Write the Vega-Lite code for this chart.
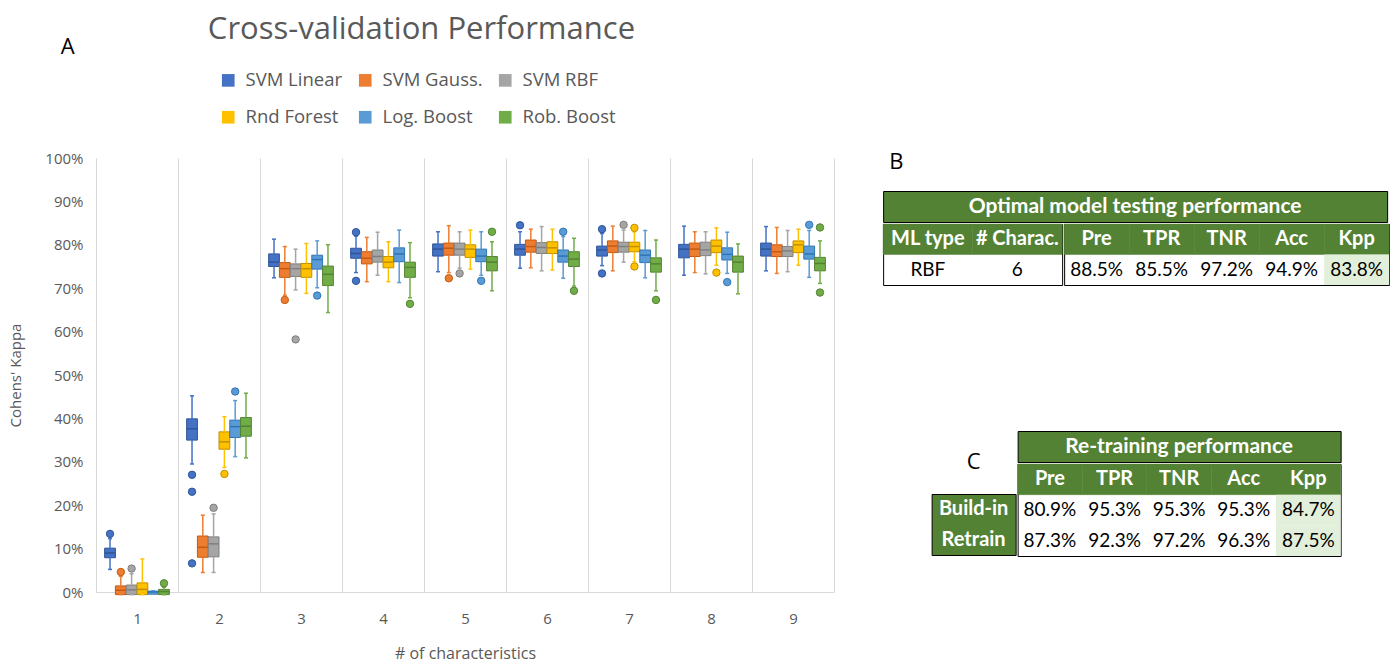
{
  "$schema": "https://vega.github.io/schema/vega-lite/v6.json",
  "background": "white",
  "padding": {"left": 8, "top": 14, "right": 0, "bottom": 0},
  "config": {"font": "Open Sans", "view": {"stroke": null}},
  "title": {"text": "Cross-validation Performance", "anchor": "start", "frame": "bounds", "dx": 199, "fontSize": 31, "font": "Open Sans", "fontWeight": "normal", "color": "#595959", "offset": -10},
  "datasets": {
    "box": [
      {"k": 1, "m": "SVM Linear", "lo": 5.2, "q1": 7.9, "md": 9.0, "q3": 10.1, "hi": 12.3},
      {"k": 1, "m": "SVM Gauss.", "lo": -0.6, "q1": -0.6, "md": 0.4, "q3": 1.4, "hi": 3.6},
      {"k": 1, "m": "SVM RBF", "lo": -0.6, "q1": -0.6, "md": 0.5, "q3": 1.6, "hi": 4.2},
      {"k": 1, "m": "Rnd Forest", "lo": -0.6, "q1": -0.6, "md": 0.6, "q3": 2.1, "hi": 7.6},
      {"k": 1, "m": "Log. Boost", "lo": -0.5, "q1": -0.5, "md": 0.0, "q3": 0.2, "hi": 0.3},
      {"k": 1, "m": "Rob. Boost", "lo": -0.6, "q1": -0.6, "md": 0.1, "q3": 0.6, "hi": 1.1},
      {"k": 2, "m": "SVM Linear", "lo": 29.5, "q1": 35.0, "md": 37.6, "q3": 39.9, "hi": 45.2},
      {"k": 2, "m": "SVM Gauss.", "lo": 4.5, "q1": 8.0, "md": 10.3, "q3": 12.9, "hi": 17.7},
      {"k": 2, "m": "SVM RBF", "lo": 4.5, "q1": 8.1, "md": 11.1, "q3": 12.7, "hi": 18.0},
      {"k": 2, "m": "Rnd Forest", "lo": 28.7, "q1": 32.9, "md": 34.6, "q3": 36.9, "hi": 40.4},
      {"k": 2, "m": "Log. Boost", "lo": 31.2, "q1": 35.6, "md": 38.1, "q3": 39.6, "hi": 44.1},
      {"k": 2, "m": "Rob. Boost", "lo": 30.9, "q1": 35.9, "md": 38.2, "q3": 40.2, "hi": 45.8},
      {"k": 3, "m": "SVM Linear", "lo": 72.4, "q1": 75.0, "md": 76.0, "q3": 77.9, "hi": 81.3},
      {"k": 3, "m": "SVM Gauss.", "lo": 68.4, "q1": 72.5, "md": 74.5, "q3": 75.9, "hi": 79.6},
      {"k": 3, "m": "SVM RBF", "lo": 69.6, "q1": 72.7, "md": 74.5, "q3": 75.6, "hi": 79.0},
      {"k": 3, "m": "Rnd Forest", "lo": 68.8, "q1": 72.5, "md": 74.5, "q3": 75.7, "hi": 80.3},
      {"k": 3, "m": "Log. Boost", "lo": 70.1, "q1": 74.4, "md": 76.6, "q3": 77.6, "hi": 80.9},
      {"k": 3, "m": "Rob. Boost", "lo": 64.4, "q1": 70.6, "md": 73.2, "q3": 75.1, "hi": 80.0},
      {"k": 4, "m": "SVM Linear", "lo": 73.6, "q1": 76.9, "md": 78.0, "q3": 79.2, "hi": 82.0},
      {"k": 4, "m": "SVM Gauss.", "lo": 71.5, "q1": 75.6, "md": 76.9, "q3": 78.4, "hi": 81.7},
      {"k": 4, "m": "SVM RBF", "lo": 73.0, "q1": 76.0, "md": 77.3, "q3": 78.8, "hi": 82.9},
      {"k": 4, "m": "Rnd Forest", "lo": 71.5, "q1": 74.7, "md": 76.0, "q3": 77.3, "hi": 80.7},
      {"k": 4, "m": "Log. Boost", "lo": 71.3, "q1": 76.1, "md": 77.9, "q3": 79.3, "hi": 83.4},
      {"k": 4, "m": "Rob. Boost", "lo": 67.8, "q1": 72.5, "md": 74.8, "q3": 76.0, "hi": 80.5},
      {"k": 5, "m": "SVM Linear", "lo": 73.8, "q1": 77.4, "md": 79.0, "q3": 80.2, "hi": 83.0},
      {"k": 5, "m": "SVM Gauss.", "lo": 73.6, "q1": 77.6, "md": 79.2, "q3": 80.4, "hi": 84.4},
      {"k": 5, "m": "SVM RBF", "lo": 74.6, "q1": 77.6, "md": 79.0, "q3": 80.4, "hi": 83.0},
      {"k": 5, "m": "Rnd Forest", "lo": 74.4, "q1": 77.1, "md": 79.0, "q3": 80.0, "hi": 83.4},
      {"k": 5, "m": "Log. Boost", "lo": 73.0, "q1": 76.1, "md": 77.4, "q3": 79.0, "hi": 83.0},
      {"k": 5, "m": "Rob. Boost", "lo": 69.4, "q1": 74.0, "md": 76.0, "q3": 77.3, "hi": 80.7},
      {"k": 6, "m": "SVM Linear", "lo": 74.6, "q1": 77.6, "md": 79.0, "q3": 80.1, "hi": 83.0},
      {"k": 6, "m": "SVM Gauss.", "lo": 74.7, "q1": 78.3, "md": 79.6, "q3": 81.1, "hi": 83.6},
      {"k": 6, "m": "SVM RBF", "lo": 74.0, "q1": 78.0, "md": 79.4, "q3": 80.5, "hi": 84.2},
      {"k": 6, "m": "Rnd Forest", "lo": 74.2, "q1": 78.0, "md": 79.3, "q3": 80.7, "hi": 83.6},
      {"k": 6, "m": "Log. Boost", "lo": 72.3, "q1": 76.0, "md": 77.4, "q3": 78.8, "hi": 81.9},
      {"k": 6, "m": "Rob. Boost", "lo": 70.5, "q1": 75.0, "md": 76.7, "q3": 78.4, "hi": 81.5},
      {"k": 7, "m": "SVM Linear", "lo": 75.2, "q1": 77.4, "md": 78.8, "q3": 79.7, "hi": 82.6},
      {"k": 7, "m": "SVM Gauss.", "lo": 74.0, "q1": 78.2, "md": 79.7, "q3": 80.9, "hi": 84.3},
      {"k": 7, "m": "SVM RBF", "lo": 76.0, "q1": 78.3, "md": 79.6, "q3": 80.6, "hi": 83.4},
      {"k": 7, "m": "Rnd Forest", "lo": 76.1, "q1": 78.4, "md": 79.6, "q3": 80.6, "hi": 83.0},
      {"k": 7, "m": "Log. Boost", "lo": 72.4, "q1": 75.9, "md": 77.6, "q3": 78.8, "hi": 83.3},
      {"k": 7, "m": "Rob. Boost", "lo": 69.4, "q1": 73.7, "md": 75.6, "q3": 77.0, "hi": 81.1},
      {"k": 8, "m": "SVM Linear", "lo": 73.0, "q1": 77.0, "md": 79.0, "q3": 80.1, "hi": 84.3},
      {"k": 8, "m": "SVM Gauss.", "lo": 73.6, "q1": 77.3, "md": 79.0, "q3": 80.4, "hi": 83.0},
      {"k": 8, "m": "SVM RBF", "lo": 73.3, "q1": 77.5, "md": 78.8, "q3": 80.6, "hi": 83.0},
      {"k": 8, "m": "Rnd Forest", "lo": 75.3, "q1": 78.2, "md": 79.7, "q3": 81.1, "hi": 83.9},
      {"k": 8, "m": "Log. Boost", "lo": 73.4, "q1": 76.5, "md": 77.8, "q3": 79.3, "hi": 82.9},
      {"k": 8, "m": "Rob. Boost", "lo": 68.7, "q1": 73.7, "md": 76.0, "q3": 77.4, "hi": 80.2},
      {"k": 9, "m": "SVM Linear", "lo": 74.0, "q1": 77.4, "md": 79.0, "q3": 80.4, "hi": 84.2},
      {"k": 9, "m": "SVM Gauss.", "lo": 73.4, "q1": 77.3, "md": 78.4, "q3": 80.0, "hi": 84.0},
      {"k": 9, "m": "SVM RBF", "lo": 73.8, "q1": 77.3, "md": 78.6, "q3": 79.6, "hi": 83.3},
      {"k": 9, "m": "Rnd Forest", "lo": 75.3, "q1": 78.2, "md": 80.0, "q3": 80.9, "hi": 83.6},
      {"k": 9, "m": "Log. Boost", "lo": 72.5, "q1": 76.7, "md": 77.9, "q3": 79.7, "hi": 83.3},
      {"k": 9, "m": "Rob. Boost", "lo": 71.1, "q1": 74.0, "md": 75.7, "q3": 77.1, "hi": 80.9}
    ],
    "out": [
      {"k": 1, "m": "SVM Linear", "v": 13.4},
      {"k": 1, "m": "SVM Gauss.", "v": 4.6},
      {"k": 1, "m": "SVM RBF", "v": 5.4},
      {"k": 1, "m": "Rob. Boost", "v": 2.0},
      {"k": 2, "m": "SVM Linear", "v": 27.0},
      {"k": 2, "m": "SVM Linear", "v": 23.1},
      {"k": 2, "m": "SVM Linear", "v": 6.6},
      {"k": 2, "m": "SVM RBF", "v": 19.4},
      {"k": 2, "m": "Rnd Forest", "v": 27.2},
      {"k": 2, "m": "Log. Boost", "v": 46.2},
      {"k": 3, "m": "SVM Gauss.", "v": 67.3},
      {"k": 3, "m": "SVM RBF", "v": 58.2},
      {"k": 3, "m": "Log. Boost", "v": 68.3},
      {"k": 4, "m": "SVM Linear", "v": 82.9},
      {"k": 4, "m": "SVM Linear", "v": 71.7},
      {"k": 4, "m": "Rob. Boost", "v": 66.4},
      {"k": 5, "m": "SVM Gauss.", "v": 72.3},
      {"k": 5, "m": "SVM RBF", "v": 73.4},
      {"k": 5, "m": "Log. Boost", "v": 71.7},
      {"k": 5, "m": "Rob. Boost", "v": 83.0},
      {"k": 6, "m": "SVM Linear", "v": 84.5},
      {"k": 6, "m": "Log. Boost", "v": 83.0},
      {"k": 6, "m": "Rob. Boost", "v": 69.4},
      {"k": 7, "m": "SVM Linear", "v": 83.6},
      {"k": 7, "m": "SVM Linear", "v": 73.4},
      {"k": 7, "m": "SVM RBF", "v": 84.6},
      {"k": 7, "m": "Rnd Forest", "v": 83.9},
      {"k": 7, "m": "Rnd Forest", "v": 75.0},
      {"k": 7, "m": "Rob. Boost", "v": 67.3},
      {"k": 8, "m": "Rnd Forest", "v": 73.6},
      {"k": 8, "m": "Log. Boost", "v": 71.4},
      {"k": 9, "m": "Log. Boost", "v": 84.6},
      {"k": 9, "m": "Rob. Boost", "v": 84.0},
      {"k": 9, "m": "Rob. Boost", "v": 69.0}
    ],
    "tb": [
      {"col": "ML type", "row": "head", "txt": "ML type"},
      {"col": "# Charac.", "row": "head", "txt": "# Charac."},
      {"col": "ML type", "row": "RBF", "txt": "RBF"},
      {"col": "# Charac.", "row": "RBF", "txt": "6"},
      {"col": "Pre", "row": "head", "txt": "Pre"},
      {"col": "TPR", "row": "head", "txt": "TPR"},
      {"col": "TNR", "row": "head", "txt": "TNR"},
      {"col": "Acc", "row": "head", "txt": "Acc"},
      {"col": "Kpp", "row": "head", "txt": "Kpp"},
      {"col": "Pre", "row": "RBF", "txt": "88.5%"},
      {"col": "TPR", "row": "RBF", "txt": "85.5%"},
      {"col": "TNR", "row": "RBF", "txt": "97.2%"},
      {"col": "Acc", "row": "RBF", "txt": "94.9%"},
      {"col": "Kpp", "row": "RBF", "txt": "83.8%"}
    ],
    "tc": [
      {"col": "Pre", "row": "head", "txt": "Pre"},
      {"col": "TPR", "row": "head", "txt": "TPR"},
      {"col": "TNR", "row": "head", "txt": "TNR"},
      {"col": "Acc", "row": "head", "txt": "Acc"},
      {"col": "Kpp", "row": "head", "txt": "Kpp"},
      {"col": "Pre", "row": "Build-in", "txt": "80.9%"},
      {"col": "TPR", "row": "Build-in", "txt": "95.3%"},
      {"col": "TNR", "row": "Build-in", "txt": "95.3%"},
      {"col": "Acc", "row": "Build-in", "txt": "95.3%"},
      {"col": "Kpp", "row": "Build-in", "txt": "84.7%"},
      {"col": "Pre", "row": "Retrain", "txt": "87.3%"},
      {"col": "TPR", "row": "Retrain", "txt": "92.3%"},
      {"col": "TNR", "row": "Retrain", "txt": "97.2%"},
      {"col": "Acc", "row": "Retrain", "txt": "96.3%"},
      {"col": "Kpp", "row": "Retrain", "txt": "87.5%"}
    ]
  },
  "hconcat": [
    {
      "width": 738,
      "height": 434,
      "title": {"text": "A", "anchor": "start", "frame": "bounds", "dx": 52, "fontSize": 22, "font": "Open Sans", "fontWeight": "normal", "color": "black", "offset": 92},
      "data": {"name": "box"},
      "encoding": {
        "x": {
          "field": "k", "type": "ordinal",
          "scale": {"paddingInner": 0, "paddingOuter": 0},
          "axis": {
            "title": "# of characteristics", "titleFont": "Open Sans", "titleFontSize": 16, "titleFontWeight": "normal", "titleColor": "#595959", "titlePadding": 19,
            "labelFont": "Open Sans", "labelFontSize": 15, "labelColor": "#595959", "labelAngle": 0, "labelPadding": 19,
            "ticks": false, "tickSize": 0, "grid": true, "tickBand": "extent", "gridColor": "#d9d9d9", "domainColor": "#d9d9d9"
          }
        },
        "xOffset": {
          "field": "m", "type": "nominal",
          "sort": ["SVM Linear", "SVM Gauss.", "SVM RBF", "Rnd Forest", "Log. Boost", "Rob. Boost"],
          "scale": {"paddingInner": 0, "paddingOuter": 0.8}
        }
      },
      "layer": [
        {
          "mark": {"type": "bar", "strokeWidth": 1, "opacity": 1},
          "encoding": {
            "y": {
              "field": "q1", "type": "quantitative", "scale": {"domain": [0, 100], "nice": false},
              "axis": {
                "title": "Cohens' Kappa", "titleFont": "Open Sans", "titleFontSize": 15, "titleFontWeight": "normal", "titleColor": "#595959", "titlePadding": 21,
                "labelFont": "Open Sans", "labelFontSize": 15, "labelColor": "#595959", "labelPadding": 13,
                "ticks": false, "tickSize": 0, "grid": false, "domainColor": "#d9d9d9", "tickCount": 10,
                "labelExpr": "datum.value + '%'"
              }
            },
            "y2": {"field": "q3"},
            "color": {
              "field": "m", "type": "nominal",
              "sort": ["SVM Linear", "SVM Gauss.", "SVM RBF", "Rnd Forest", "Log. Boost", "Rob. Boost"],
              "scale": {"domain": ["SVM Linear", "SVM Gauss.", "SVM RBF", "Rnd Forest", "Log. Boost", "Rob. Boost"], "range": ["#4472C4", "#ED7D31", "#A5A5A5", "#FFC000", "#5B9BD5", "#70AD47"]},
              "legend": {
                "title": null, "orient": "none", "legendX": 123, "legendY": -87, "direction": "horizontal", "columns": 3,
                "symbolType": "square", "symbolSize": 160, "symbolStrokeWidth": 0, "symbolOpacity": 1,
                "labelFont": "Open Sans", "labelFontSize": 18.5, "labelColor": "#595959", "labelOffset": 8,
                "columnPadding": 13, "rowPadding": 18, "padding": 0
              }
            },
            "stroke": {
              "field": "m", "type": "nominal",
              "scale": {"domain": ["SVM Linear", "SVM Gauss.", "SVM RBF", "Rnd Forest", "Log. Boost", "Rob. Boost"], "range": ["#2F5597", "#C55A11", "#7F7F7F", "#BF9000", "#2E75B6", "#548235"]},
              "legend": null
            }
          }
        },
        {
          "mark": {"type": "rule", "strokeWidth": 1.5, "opacity": 1},
          "encoding": {
            "y": {"field": "lo", "type": "quantitative", "scale": {"domain": [0, 100], "nice": false}},
            "y2": {"field": "q1"},
            "color": {"field": "m", "type": "nominal"}
          }
        },
        {
          "mark": {"type": "rule", "strokeWidth": 1.5, "opacity": 1},
          "encoding": {
            "y": {"field": "q3", "type": "quantitative", "scale": {"domain": [0, 100], "nice": false}},
            "y2": {"field": "hi"},
            "color": {"field": "m", "type": "nominal"}
          }
        },
        {
          "transform": [{"fold": ["lo", "hi"], "as": ["end", "val"]}],
          "mark": {"type": "tick", "size": 4, "thickness": 1.5, "opacity": 1},
          "encoding": {
            "y": {"field": "val", "type": "quantitative", "scale": {"domain": [0, 100], "nice": false}},
            "color": {"field": "m", "type": "nominal"}
          }
        },
        {
          "mark": {"type": "tick", "size": 10, "thickness": 1.5, "opacity": 1},
          "encoding": {
            "y": {"field": "md", "type": "quantitative", "scale": {"domain": [0, 100], "nice": false}},
            "fill": {
              "field": "m", "type": "nominal",
              "scale": {"domain": ["SVM Linear", "SVM Gauss.", "SVM RBF", "Rnd Forest", "Log. Boost", "Rob. Boost"], "range": ["#2F5597", "#C55A11", "#7F7F7F", "#BF9000", "#2E75B6", "#548235"]},
              "legend": null
            }
          }
        },
        {
          "data": {"name": "out"},
          "mark": {"type": "circle", "size": 55, "opacity": 1, "strokeWidth": 1},
          "encoding": {
            "y": {"field": "v", "type": "quantitative", "scale": {"domain": [0, 100], "nice": false}},
            "color": {"field": "m", "type": "nominal"},
            "stroke": {"field": "m", "type": "nominal", "legend": null}
          }
        }
      ]
    },
    {
      "vconcat": [
        {
          "spacing": 0,
          "vconcat": [
            {
              "width": 504, "height": 32,
              "data": {"values": [{"t": "B"}]},
              "mark": {"type": "text", "font": "Open Sans", "fontSize": 22, "color": "black", "align": "left", "baseline": "bottom", "dx": 6},
              "encoding": {
                "x": {"datum": "B", "type": "nominal", "bandPosition": 0, "scale": {"type": "band", "paddingInner": 0, "paddingOuter": 0}, "axis": null},
                "text": {"field": "t"}
              }
            },
            {
              "width": 504, "height": 31,
              "view": {"fill": "#548235", "stroke": "black"},
              "data": {"values": [{"t": "Optimal model testing performance"}]},
              "mark": {"type": "text", "font": "Lato", "fontWeight": "bold", "fontSize": 21, "color": "white"},
              "encoding": {"text": {"field": "t"}}
            },
            {
              "spacing": 0,
              "hconcat": [
                {
                  "width": 179, "height": 61,
                  "view": {"fill": "white", "stroke": "black"},
                  "data": {"name": "tb"},
                  "transform": [{"filter": {"field": "col", "oneOf": ["ML type", "# Charac."]}}],
                  "encoding": {
                    "x": {"field": "col", "type": "nominal", "sort": ["ML type", "# Charac."], "scale": {"paddingInner": 0, "paddingOuter": 0}, "axis": null},
                    "y": {"field": "row", "type": "nominal", "sort": ["head", "RBF"], "scale": {"paddingInner": 0, "paddingOuter": 0}, "axis": null}
                  },
                  "layer": [
                    {"transform": [{"filter": "datum.row == 'head'"}], "mark": {"type": "rect", "color": "#548235", "stroke": "#548235", "strokeWidth": 0.5}},
                    {"transform": [{"filter": "datum.row == 'head'"}], "mark": {"type": "text", "font": "Lato", "fontWeight": "bold", "fontSize": 20, "color": "white"}, "encoding": {"text": {"field": "txt"}}},
                    {"transform": [{"filter": "datum.row != 'head'"}], "mark": {"type": "text", "font": "Lato", "fontSize": 19, "color": "black"}, "encoding": {"text": {"field": "txt"}}}
                  ]
                },
                {
                  "width": 325, "height": 61,
                  "view": {"fill": "white", "stroke": "black"},
                  "data": {"name": "tb"},
                  "transform": [{"filter": {"field": "col", "oneOf": ["Pre", "TPR", "TNR", "Acc", "Kpp"]}}],
                  "encoding": {
                    "x": {"field": "col", "type": "nominal", "sort": ["Pre", "TPR", "TNR", "Acc", "Kpp"], "scale": {"paddingInner": 0, "paddingOuter": 0}, "axis": null},
                    "y": {"field": "row", "type": "nominal", "sort": ["head", "RBF"], "scale": {"paddingInner": 0, "paddingOuter": 0}, "axis": null}
                  },
                  "layer": [
                    {"transform": [{"filter": "datum.row == 'head'"}], "mark": {"type": "rect", "color": "#548235", "stroke": "#548235", "strokeWidth": 0.5}},
                    {"transform": [{"filter": "datum.row != 'head' && datum.col == 'Kpp'"}], "mark": {"type": "rect", "color": "#E2EFDA"}},
                    {"transform": [{"filter": "datum.row == 'head'"}], "mark": {"type": "text", "font": "Lato", "fontWeight": "bold", "fontSize": 20, "color": "white"}, "encoding": {"text": {"field": "txt"}}},
                    {"transform": [{"filter": "datum.row != 'head'"}], "mark": {"type": "text", "font": "Lato", "fontSize": 19, "color": "black"}, "encoding": {"text": {"field": "txt"}}}
                  ]
                }
              ]
            }
          ]
        },
        {
          "spacing": 0,
          "hconcat": [
            {
              "spacing": 0,
              "vconcat": [
                {
                  "width": 84, "height": 62,
                  "data": {"values": [{"t": "C"}]},
                  "mark": {"type": "text", "font": "Open Sans", "fontSize": 22, "color": "black"},
                  "encoding": {"text": {"field": "t"}}
                },
                {
                  "width": 84, "height": 61,
                  "view": {"fill": "#548235", "stroke": "black"},
                  "data": {"name": "tc"},
                  "transform": [{"filter": "datum.col == 'Pre' && datum.row != 'head'"}],
                  "mark": {"type": "text", "font": "Lato", "fontWeight": "bold", "fontSize": 20, "color": "white"},
                  "encoding": {
                    "y": {"field": "row", "type": "nominal", "sort": ["Build-in", "Retrain"], "scale": {"paddingInner": 0, "paddingOuter": 0}, "axis": null},
                    "text": {"field": "row"}
                  }
                }
              ]
            },
            {
              "spacing": 0,
              "vconcat": [
                {
                  "width": 323, "height": 31,
                  "view": {"fill": "#548235", "stroke": "black"},
                  "data": {"values": [{"t": "Re-training performance"}]},
                  "mark": {"type": "text", "font": "Lato", "fontWeight": "bold", "fontSize": 21, "color": "white"},
                  "encoding": {"text": {"field": "t"}}
                },
                {
                  "width": 323, "height": 92,
                  "view": {"fill": "white", "stroke": "black"},
                  "data": {"name": "tc"},
                  "encoding": {
                    "x": {"field": "col", "type": "nominal", "sort": ["Pre", "TPR", "TNR", "Acc", "Kpp"], "scale": {"paddingInner": 0, "paddingOuter": 0}, "axis": null},
                    "y": {"field": "row", "type": "nominal", "sort": ["head", "Build-in", "Retrain"], "scale": {"paddingInner": 0, "paddingOuter": 0}, "axis": null}
                  },
                  "layer": [
                    {"transform": [{"filter": "datum.row == 'head'"}], "mark": {"type": "rect", "color": "#548235", "stroke": "#548235", "strokeWidth": 0.5}},
                    {"transform": [{"filter": "datum.row != 'head' && datum.col == 'Kpp'"}], "mark": {"type": "rect", "color": "#E2EFDA"}},
                    {"transform": [{"filter": "datum.row == 'head'"}], "mark": {"type": "text", "font": "Lato", "fontWeight": "bold", "fontSize": 20, "color": "white"}, "encoding": {"text": {"field": "txt"}}},
                    {"transform": [{"filter": "datum.row != 'head'"}], "mark": {"type": "text", "font": "Lato", "fontSize": 19, "color": "black"}, "encoding": {"text": {"field": "txt"}}}
                  ]
                }
              ]
            }
          ]
        }
      ],
      "spacing": 144,
      "center": true
    }
  ],
  "spacing": 49,
  "bounds": "flush"
}
